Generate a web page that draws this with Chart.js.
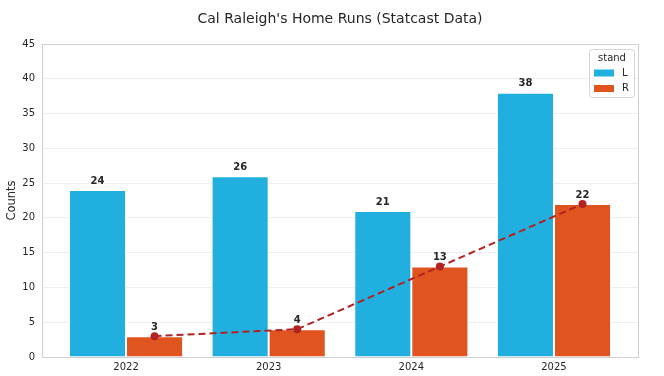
<!DOCTYPE html>
<html>
<head>
<meta charset="utf-8">
<script src="https://cdn.jsdelivr.net/npm/chart.js@4.4.0/dist/chart.umd.min.js"></script>
<style>
  html, body { margin: 0; padding: 0; background: #ffffff; }
  #wrap { width: 664px; height: 376px; position: relative; }
</style>
</head>
<body>
<div id="wrap"><canvas id="c" width="664" height="376"></canvas></div>
<script>
const years = ['2022', '2023', '2024', '2025'];
const leftHR = [24, 26, 21, 38];
const rightHR = [3, 4, 13, 22];
const yTicks = [0, 5, 10, 15, 20, 25, 30, 35, 40, 45];
const chartTitle = "Cal Raleigh's Home Runs (Statcast Data)";
const legendTitle = 'stand';
const seriesNames = ['L', 'R'];

const FONT = "'DejaVu Sans', sans-serif";
const BLUE = '#21afdf';
const ORANGE = '#e05420';
const LINE = '#b22222';

const framePlugin = {
  id: 'frame',
  beforeDatasetsDraw(chart) {
    const a = chart.chartArea, ctx = chart.ctx;
    ctx.save();
    ctx.strokeStyle = '#d0d0d0';
    ctx.lineWidth = 1;
    ctx.strokeRect(Math.round(a.left) + 0.5, Math.round(a.top) + 0.5,
                   Math.round(a.right - a.left), Math.round(a.bottom - a.top));
    ctx.restore();
  },
  afterDraw(chart) {
    const a = chart.chartArea, ctx = chart.ctx;
    ctx.save();
    // title
    ctx.fillStyle = '#262626';
    ctx.font = '14px ' + FONT;
    ctx.textAlign = 'center';
    ctx.textBaseline = 'middle';
    ctx.fillText(chartTitle, (a.left + a.right) / 2, 19);

    // value labels
    ctx.font = 'bold 10px ' + FONT;
    ctx.fillStyle = '#262626';
    ctx.textBaseline = 'bottom';
    [0, 1].forEach(di => {
      const meta = chart.getDatasetMeta(di);
      meta.data.forEach((bar, i) => {
        const v = chart.data.datasets[di].data[i].y;
        ctx.fillText(String(v), bar.x, bar.y - 4);
      });
    });

    // legend
    const bx = 589.5, by = 49.5, bw = 45, bh = 48;
    ctx.fillStyle = 'rgba(255,255,255,0.85)';
    ctx.strokeStyle = '#d6d6d6';
    ctx.lineWidth = 1;
    ctx.beginPath();
    if (ctx.roundRect) ctx.roundRect(bx, by, bw, bh, 3); else ctx.rect(bx, by, bw, bh);
    ctx.fill();
    ctx.stroke();
    ctx.fillStyle = '#262626';
    ctx.font = '10px ' + FONT;
    ctx.textAlign = 'center';
    ctx.textBaseline = 'middle';
    ctx.fillText(legendTitle, bx + bw / 2, 58);
    const cols = [BLUE, ORANGE];
    seriesNames.forEach((n, i) => {
      const yy = 73 + i * 15.5;
      ctx.fillStyle = cols[i];
      ctx.fillRect(594, yy - 3.5, 20, 7);
      ctx.fillStyle = '#262626';
      ctx.textAlign = 'left';
      ctx.fillText(n, 622, yy);
    });
    ctx.restore();
  }
};

new Chart(document.getElementById('c'), {
  data: {
    datasets: [
      {
        type: 'bar', label: seriesNames[0], order: 2,
        data: leftHR.map((v, i) => ({ x: i, y: v })),
        backgroundColor: BLUE, borderColor: '#ffffff', borderWidth: 1,
        categoryPercentage: 0.8, barPercentage: 1.0
      },
      {
        type: 'bar', label: seriesNames[1], order: 2,
        data: rightHR.map((v, i) => ({ x: i, y: v })),
        backgroundColor: ORANGE, borderColor: '#ffffff', borderWidth: 1,
        categoryPercentage: 0.8, barPercentage: 1.0
      },
      {
        type: 'line', label: 'trend', order: 0,
        data: rightHR.map((v, i) => ({ x: i + 0.2, y: v })),
        borderColor: LINE, backgroundColor: LINE, borderWidth: 2,
        borderDash: [7, 4], pointRadius: 4, pointBackgroundColor: LINE,
        pointBorderWidth: 0, tension: 0, fill: false
      }
    ]
  },
  options: {
    responsive: false,
    animation: false,
    layout: { padding: { top: 44, right: 26, left: 0, bottom: 0 } },
    plugins: { legend: { display: false }, tooltip: { enabled: false }, title: { display: false } },
    scales: {
      x: {
        type: 'linear', min: -0.589, max: 3.589, offset: false,
        grid: { display: false, drawTicks: false },
        border: { display: false },
        afterBuildTicks: (axis) => { axis.ticks = years.map((_, i) => ({ value: i })); },
        afterFit: (axis) => { axis.height = 19; },
        ticks: {
          callback: (v) => years[v] !== undefined ? years[v] : '',
          color: '#262626', font: { family: FONT, size: 10 }, padding: 4, maxRotation: 0
        }
      },
      y: {
        min: 0, max: 45,
        afterBuildTicks: (axis) => { axis.ticks = yTicks.map(v => ({ value: v })); },
        afterFit: (axis) => { axis.width = 42; },
        grid: { color: '#eeeeee', drawTicks: false, lineWidth: 1 },
        border: { display: false },
        ticks: { color: '#262626', font: { family: FONT, size: 10 }, padding: 7 },
        title: { display: true, text: 'Counts', color: '#262626', font: { family: FONT, size: 11.5 }, padding: { top: 5, bottom: 2 } }
      }
    }
  },
  plugins: [framePlugin]
});
</script>
</body>
</html>
